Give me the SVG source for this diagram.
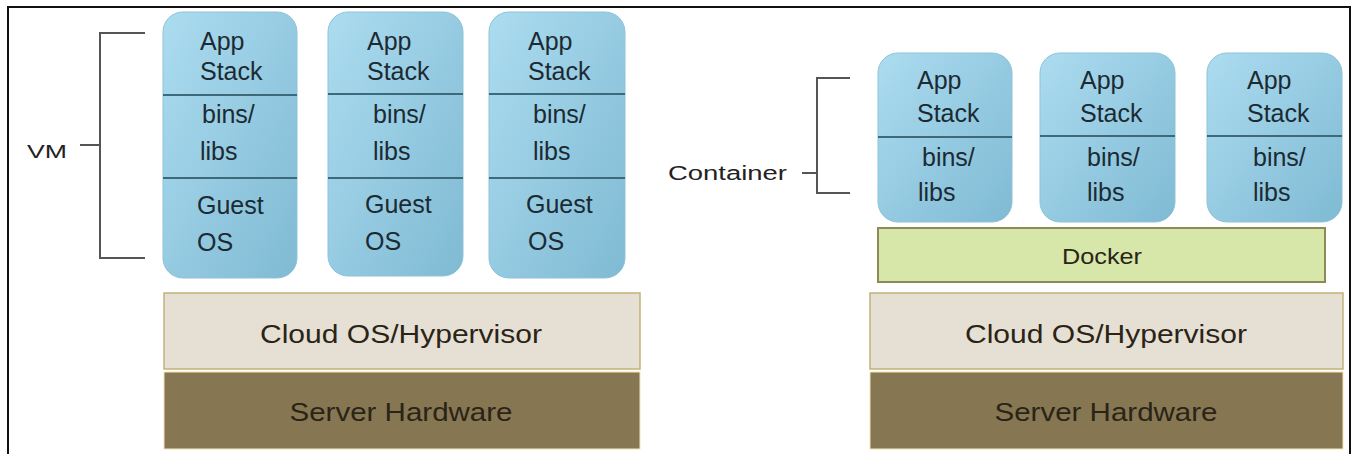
<svg xmlns="http://www.w3.org/2000/svg" width="1357" height="454" viewBox="0 0 1357 454">
<defs>
<linearGradient id="blue" x1="0" y1="0" x2="1" y2="1">
<stop offset="0" stop-color="#acdcf0"/>
<stop offset="1" stop-color="#7fbad3"/>
</linearGradient>
<style>
.box{fill:url(#blue);stroke:#8ec3d8;stroke-width:1}
.div{stroke:#3d6a7a;stroke-width:2}
.t{font-family:"Liberation Sans",Arial,sans-serif;font-size:25px;fill:#1c2a33}
.br{fill:none;stroke:#555;stroke-width:2}
.lab{font-family:"Liberation Sans",Arial,sans-serif;fill:#222}
.cloud{fill:#e6dfd3;stroke:#c2b27a;stroke-width:1.5}
.hw{fill:#867752;stroke:#f3e6b8;stroke-width:1}
.big{font-family:"Liberation Sans",Arial,sans-serif;text-anchor:middle;fill:#2a2418}
.docker{fill:#d6e7a9;stroke:#8e8a56;stroke-width:2}
</style>
</defs>
<rect width="1357" height="454" fill="#fff"/>
<path d="M8,460 V7 H1350 V460" fill="none" stroke="#111" stroke-width="2"/>

<g id="connectors">
<path class="br" d="M145,33 H100 V258 H145 M80,145 H100"/>
<path class="br" d="M850,78 H817 V193 H850 M802,173 H817"/>
</g>

<g id="vm-label"><text class="lab" x="27" y="158" font-size="19" textLength="40" lengthAdjust="spacingAndGlyphs">VM</text></g>
<g id="container-label"><text class="lab" x="668" y="180" font-size="20" textLength="119" lengthAdjust="spacingAndGlyphs">Container</text></g>

<g id="vm1">
<rect class="box" x="163" y="12" width="134" height="266" rx="20"/>
<line class="div" x1="163" y1="95" x2="297" y2="95"/>
<line class="div" x1="163" y1="178" x2="297" y2="178"/>
<text class="t" x="200" y="50">App</text>
<text class="t" x="200" y="80">Stack</text>
<text class="t" x="202" y="123">bins/</text>
<text class="t" x="200" y="160">libs</text>
<text class="t" x="197" y="214">Guest</text>
<text class="t" x="197" y="251">OS</text>
</g>
<g id="vm2">
<rect class="box" x="328" y="12" width="135" height="264" rx="20"/>
<line class="div" x1="328" y1="94" x2="463" y2="94"/>
<line class="div" x1="328" y1="178" x2="463" y2="178"/>
<text class="t" x="367" y="50">App</text>
<text class="t" x="367" y="80">Stack</text>
<text class="t" x="373" y="123">bins/</text>
<text class="t" x="373" y="160">libs</text>
<text class="t" x="365" y="213">Guest</text>
<text class="t" x="365" y="250">OS</text>
</g>
<g id="vm3">
<rect class="box" x="489" y="12" width="136" height="266" rx="20"/>
<line class="div" x1="489" y1="94" x2="625" y2="94"/>
<line class="div" x1="489" y1="178" x2="625" y2="178"/>
<text class="t" x="528" y="50">App</text>
<text class="t" x="528" y="80">Stack</text>
<text class="t" x="533" y="123">bins/</text>
<text class="t" x="533" y="160">libs</text>
<text class="t" x="526" y="213">Guest</text>
<text class="t" x="528" y="250">OS</text>
</g>

<g id="hyp-left">
<rect class="cloud" x="164" y="293" width="476" height="76"/>
<text class="big" x="401" y="343" font-size="26" textLength="282" lengthAdjust="spacingAndGlyphs">Cloud OS/Hypervisor</text>
</g>
<g id="hw-left">
<rect class="hw" x="164" y="372" width="476" height="77"/>
<text class="big" x="401" y="421" font-size="25" textLength="223" lengthAdjust="spacingAndGlyphs" fill="#1e1910">Server Hardware</text>
</g>

<g id="c1">
<rect class="box" x="878" y="53" width="134" height="169" rx="20"/>
<line class="div" x1="878" y1="137" x2="1012" y2="137"/>
<text class="t" x="917" y="89">App</text>
<text class="t" x="917" y="122">Stack</text>
<text class="t" x="922" y="166">bins/</text>
<text class="t" x="918" y="201">libs</text>
</g>
<g id="c2">
<rect class="box" x="1040" y="53" width="135" height="169" rx="20"/>
<line class="div" x1="1040" y1="136" x2="1175" y2="136"/>
<text class="t" x="1080" y="89">App</text>
<text class="t" x="1080" y="122">Stack</text>
<text class="t" x="1087" y="166">bins/</text>
<text class="t" x="1087" y="201">libs</text>
</g>
<g id="c3">
<rect class="box" x="1207" y="53" width="135" height="169" rx="20"/>
<line class="div" x1="1207" y1="136" x2="1342" y2="136"/>
<text class="t" x="1247" y="89">App</text>
<text class="t" x="1247" y="122">Stack</text>
<text class="t" x="1253" y="166">bins/</text>
<text class="t" x="1253" y="201">libs</text>
</g>

<g id="docker">
<rect class="docker" x="878" y="228" width="447" height="54"/>
<text class="big" x="1102" y="264" font-size="22" textLength="80" lengthAdjust="spacingAndGlyphs" fill="#2a2a18">Docker</text>
</g>

<g id="hyp-right">
<rect class="cloud" x="870" y="293" width="473" height="76"/>
<text class="big" x="1106" y="343" font-size="26" textLength="282" lengthAdjust="spacingAndGlyphs">Cloud OS/Hypervisor</text>
</g>
<g id="hw-right">
<rect class="hw" x="870" y="372" width="473" height="77"/>
<text class="big" x="1106" y="421" font-size="25" textLength="223" lengthAdjust="spacingAndGlyphs" fill="#1e1910">Server Hardware</text>
</g>
</svg>
